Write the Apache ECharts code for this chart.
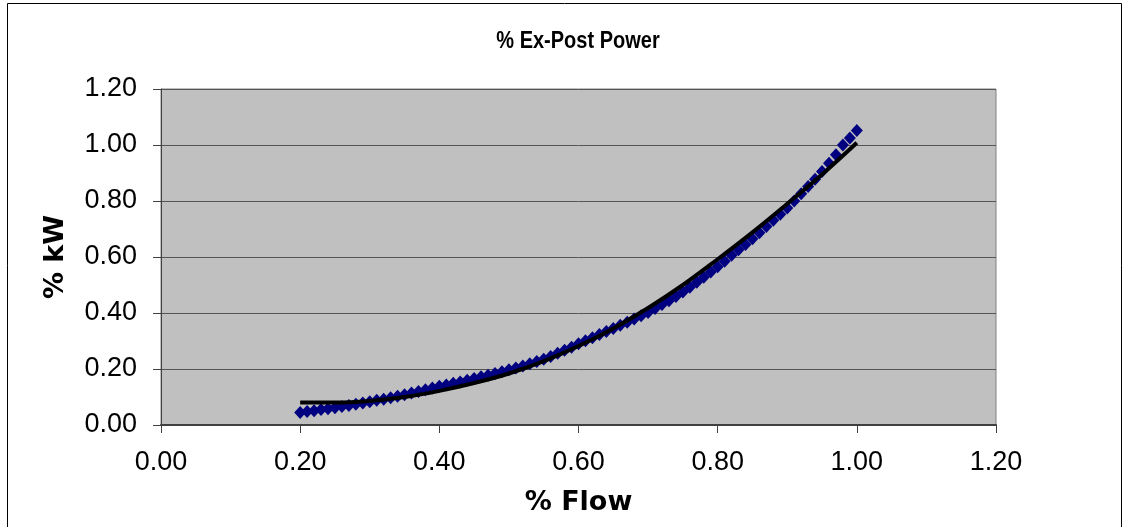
<!DOCTYPE html>
<html>
<head>
<meta charset="utf-8">
<script src="https://cdn.jsdelivr.net/npm/echarts@6/dist/echarts.min.js"></script>
<style>
html,body{margin:0;padding:0;background:#fff;}
#c{width:1128px;height:527px;}
</style>
</head>
<body>
<div id="c"></div>
<script>
// Measured data (% Flow vs % kW)
var flow = [0.20,0.21,0.22,0.23,0.24,0.25,0.26,0.27,0.28,0.29,0.30,0.31,0.32,0.33,0.34,0.35,0.36,0.37,0.38,0.39,
            0.40,0.41,0.42,0.43,0.44,0.45,0.46,0.47,0.48,0.49,0.50,0.51,0.52,0.53,0.54,0.55,0.56,0.57,0.58,0.59,
            0.60,0.61,0.62,0.63,0.64,0.65,0.66,0.67,0.68,0.69,0.70,0.71,0.72,0.73,0.74,0.75,0.76,0.77,0.78,0.79,
            0.80,0.81,0.82,0.83,0.84,0.85,0.86,0.87,0.88,0.89,0.90,0.91,0.92,0.93,0.94,0.95,0.96,0.97,0.98,0.99,1.00];
var kw = [0.045,0.048,0.051,0.055,0.058,0.062,0.066,0.070,0.074,0.079,0.083,0.088,0.092,0.097,0.103,0.108,0.114,0.120,0.126,0.132,
          0.138,0.143,0.149,0.154,0.160,0.166,0.172,0.178,0.184,0.190,0.197,0.204,0.211,0.219,0.227,0.235,0.245,0.256,0.267,0.278,
          0.290,0.301,0.312,0.323,0.334,0.345,0.356,0.367,0.379,0.390,0.402,0.416,0.430,0.444,0.459,0.475,0.492,0.510,0.528,0.546,
          0.565,0.585,0.606,0.626,0.645,0.665,0.687,0.709,0.731,0.753,0.775,0.800,0.826,0.852,0.878,0.905,0.935,0.965,1.000,1.025,1.052];
// Trend line
var trendFlow = [0.20,0.25,0.30,0.35,0.40,0.45,0.50,0.55,0.60,0.65,0.70,0.75,0.80,0.85,0.90,0.95,1.00];
var trendKw   = [0.080,0.080,0.086,0.100,0.122,0.150,0.184,0.228,0.282,0.345,0.418,0.500,0.592,0.688,0.790,0.895,1.008];
// Axis ticks
var xTicks = [0.00,0.20,0.40,0.60,0.80,1.00,1.20];
var yTicks = [0.00,0.20,0.40,0.60,0.80,1.00,1.20];
var titleText = '% Ex-Post Power';

var FONT = '"DejaVu Sans", Verdana, sans-serif';
var TICKFONT = '"Liberation Sans", Arial, sans-serif';
var chart = echarts.init(document.getElementById('c'), null, {renderer:'canvas'});

var pts = flow.map(function(f,i){return [f, kw[i]];});
var tpts = trendFlow.map(function(f,i){return [f, trendKw[i]];});

chart.setOption({
  animation:false,
  backgroundColor:'#ffffff',
  graphic:[{
    type:'rect', silent:true, z:-1,
    shape:{x:7.5, y:3.5, width:1114, height:540},
    style:{fill:null, stroke:'#000', lineWidth:1}
  },{
    type:'text', silent:true,
    x:578, y:41, scaleY:1.2,
    style:{text:titleText, fontFamily:TICKFONT, fontWeight:'bold', fontSize:20,
      fill:'#000', align:'center', verticalAlign:'middle'}
  }],
  grid:{
    left:161, right:132, top:89, bottom:102,
    show:true, backgroundColor:'#C0C0C0', borderColor:'#808080', borderWidth:1
  },
  xAxis:{
    type:'value', min:xTicks[0], max:xTicks[xTicks.length-1], interval:0.2,
    name:'% Flow', nameLocation:'middle', nameGap:64,
    nameTextStyle:{fontFamily:FONT, fontWeight:'bold', fontSize:27, color:'#000'},
    axisLine:{show:true, lineStyle:{color:'#404040', width:2}},
    axisTick:{show:true, inside:false, length:8, lineStyle:{color:'#404040', width:1}},
    axisLabel:{fontFamily:TICKFONT, fontSize:27, color:'#000', margin:24,
      formatter:function(v){return v.toFixed(2);}},
    splitLine:{show:false}
  },
  yAxis:{
    type:'value', min:yTicks[0], max:yTicks[yTicks.length-1], interval:0.2,
    name:'% kW', nameLocation:'middle', nameGap:92, nameRotate:90,
    nameTextStyle:{fontFamily:FONT, fontWeight:'bold', fontSize:27, color:'#000'},
    axisLine:{show:true, lineStyle:{color:'#404040', width:1}},
    axisTick:{show:true, inside:false, length:8, lineStyle:{color:'#404040', width:1}},
    axisLabel:{fontFamily:TICKFONT, fontSize:27, color:'#000', margin:24,
      formatter:function(v){return v.toFixed(2);}},
    splitLine:{show:true, lineStyle:{color:'#555555', width:1}}
  },
  series:[
    {
      type:'scatter', data:pts, symbol:'diamond', symbolSize:[12,13],
      itemStyle:{color:'#000080', opacity:1}, z:2
    },
    {
      type:'line', data:tpts, showSymbol:false, smooth:0.4,
      lineStyle:{color:'#000000', width:4}, z:3
    }
  ]
});
</script>
</body>
</html>
